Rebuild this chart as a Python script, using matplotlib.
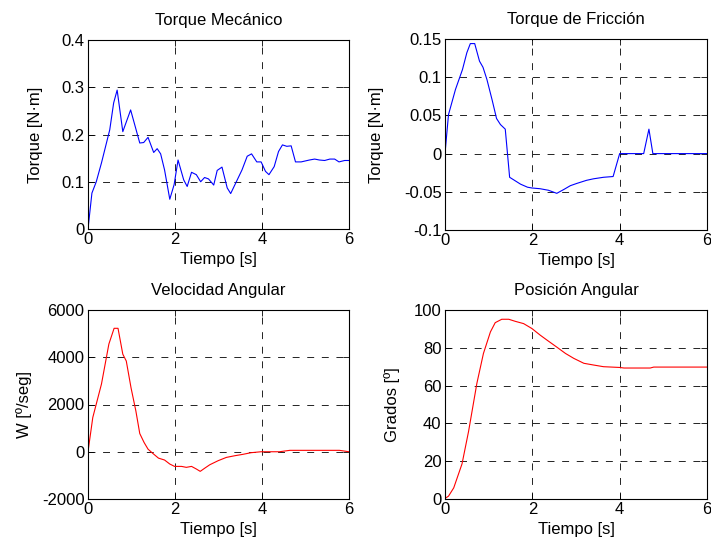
import numpy as np
import matplotlib.pyplot as plt

plt.rcParams['font.family'] = ['Liberation Sans', 'DejaVu Sans']
plt.rcParams['font.size'] = 12
plt.rcParams['axes.unicode_minus'] = False

# Torque Mecanico
t_mec = [0, 0.09, 0.19, 0.31, 0.50, 0.59, 0.67, 0.80, 0.98, 1.19, 1.28, 1.38, 1.51, 1.59,
         1.67, 1.76, 1.88, 1.98, 2.07, 2.20, 2.28, 2.38, 2.49, 2.59, 2.68, 2.77, 2.89, 2.97,
         3.08, 3.20, 3.28, 3.41, 3.54, 3.66, 3.76, 3.88, 3.98, 4.08, 4.16, 4.28, 4.38, 4.47,
         4.57, 4.67, 4.77, 4.90, 5.09, 5.21, 5.32, 5.44, 5.56, 5.67, 5.77, 5.90, 6.0]
torque_mec = [0, 0.076, 0.10, 0.14, 0.21, 0.267, 0.294, 0.206, 0.252, 0.182, 0.183, 0.194,
              0.162, 0.170, 0.159, 0.125, 0.063, 0.094, 0.146, 0.104, 0.090, 0.120, 0.115,
              0.100, 0.109, 0.106, 0.093, 0.124, 0.131, 0.087, 0.075, 0.100, 0.125, 0.154,
              0.159, 0.142, 0.142, 0.122, 0.115, 0.132, 0.164, 0.178, 0.175, 0.176, 0.142,
              0.142, 0.146, 0.148, 0.146, 0.145, 0.148, 0.148, 0.142, 0.145, 0.145]

# Torque de Friccion
t_fric = [0, 0.08, 0.24, 0.40, 0.50, 0.58, 0.68, 0.79, 0.87, 0.96, 1.08, 1.18, 1.27, 1.38,
          1.48, 1.73, 1.89, 1.99, 2.18, 2.37, 2.56, 2.72, 2.87, 3.02, 3.24, 3.40, 3.63, 3.85,
          4.0, 4.55, 4.67, 4.76, 6.0]
torque_fric = [0, 0.051, 0.084, 0.110, 0.132, 0.144, 0.144, 0.121, 0.113, 0.097, 0.070,
               0.046, 0.038, 0.032, -0.031, -0.040, -0.044, -0.045, -0.046, -0.048, -0.052,
               -0.047, -0.042, -0.039, -0.035, -0.033, -0.031, -0.030, 0, 0, 0.032, 0, 0]

# Velocidad Angular
t_vel = [0, 0.11, 0.31, 0.48, 0.60, 0.69, 0.80, 0.88, 0.99, 1.10, 1.19, 1.29, 1.38, 1.49,
         1.62, 1.76, 1.88, 1.99, 2.15, 2.26, 2.38, 2.49, 2.58, 2.68, 2.80, 2.99, 3.18, 3.37,
         3.56, 3.75, 3.98, 4.40, 4.64, 5.17, 5.78, 6.0]
velocidad = [0, 1450, 2870, 4560, 5225, 5225, 4130, 3840, 2700, 1730, 770, 390, 110, -70,
             -270, -350, -520, -620, -620, -660, -620, -730, -830, -700, -550, -380, -240,
             -170, -110, -40, 0, 0, 60, 60, 60, 0]

# Posicion Angular
t_pos = [0, 0.08, 0.20, 0.39, 0.54, 0.73, 0.88, 1.04, 1.15, 1.30, 1.46, 1.61, 1.80, 1.99,
         2.18, 2.34, 2.57, 2.76, 2.95, 3.18, 3.40, 3.63, 4.0, 4.1, 4.7, 4.78, 6.0]
posicion = [0.3, 1.5, 5.9, 18.6, 35.8, 61.2, 77, 88.4, 93.3, 95.1, 95.1, 94, 92.8, 90.2,
            86.7, 84, 80.2, 77, 74.4, 71.8, 70.9, 70, 69.6, 69.3, 69.3, 69.8, 69.8]

fig = plt.figure(figsize=(7.11, 5.46), dpi=100)
W, H = 711, 546


def make_ax(x0, x1, y0, y1):
    return fig.add_axes([x0 / W, 1 - y1 / H, (x1 - x0) / W, (y1 - y0) / H])


def style(ax, title, ylabel, ylim, yticks, label_off, yticklabels=None):
    ax.set_xlim(0, 6)
    ax.set_xticks([0, 2, 4, 6])
    ax.set_ylim(*ylim)
    ax.set_yticks(yticks)
    if yticklabels is not None:
        ax.set_yticklabels(yticklabels)
    ax.set_title(title, fontsize=12, pad=11)
    ax.set_xlabel('Tiempo [s]', labelpad=3)
    ax.set_ylabel(ylabel)
    # label_off: pixels from the axes' left edge to the label's right edge
    ax.yaxis.set_label_coords(-label_off / 261.0, 0.5)
    ax.tick_params(direction='in', length=4, width=0.6, top=True, right=True, pad=2.5)
    ax.grid(True, color='black', linestyle=(0, (8.3, 9.2)), linewidth=0.6)
    for s in ax.spines.values():
        s.set_linewidth(0.8)


ax1 = make_ax(88, 349, 40, 229)
ax1.plot(t_mec, torque_mec, color='blue', lw=0.8)
style(ax1, 'Torque Mecánico', 'Torque [N·m]', (0, 0.4), [0, 0.1, 0.2, 0.3, 0.4], 45,
      ['0', '0.1', '0.2', '0.3', '0.4'])

ax2 = make_ax(445, 707, 39, 230)
ax2.plot(t_fric, torque_fric, color='blue', lw=0.8)
style(ax2, 'Torque de Fricción', 'Torque [N·m]', (-0.1, 0.15),
      [-0.1, -0.05, 0, 0.05, 0.1, 0.15], 61,
      ['-0.1', '-0.05', '0', '0.05', '0.1', '0.15'])

ax3 = make_ax(88, 349, 310, 499)
ax3.plot(t_vel, velocidad, color='red', lw=0.8)
style(ax3, 'Velocidad Angular', 'W [º/seg]', (-2000, 6000),
      [-2000, 0, 2000, 4000, 6000], 56)

ax4 = make_ax(445, 707, 310, 499)
ax4.plot(t_pos, posicion, color='red', lw=0.8)
style(ax4, 'Posición Angular', 'Grados [º]', (0, 100), [0, 20, 40, 60, 80, 100], 45)

fig.savefig('out.png', dpi=100)
